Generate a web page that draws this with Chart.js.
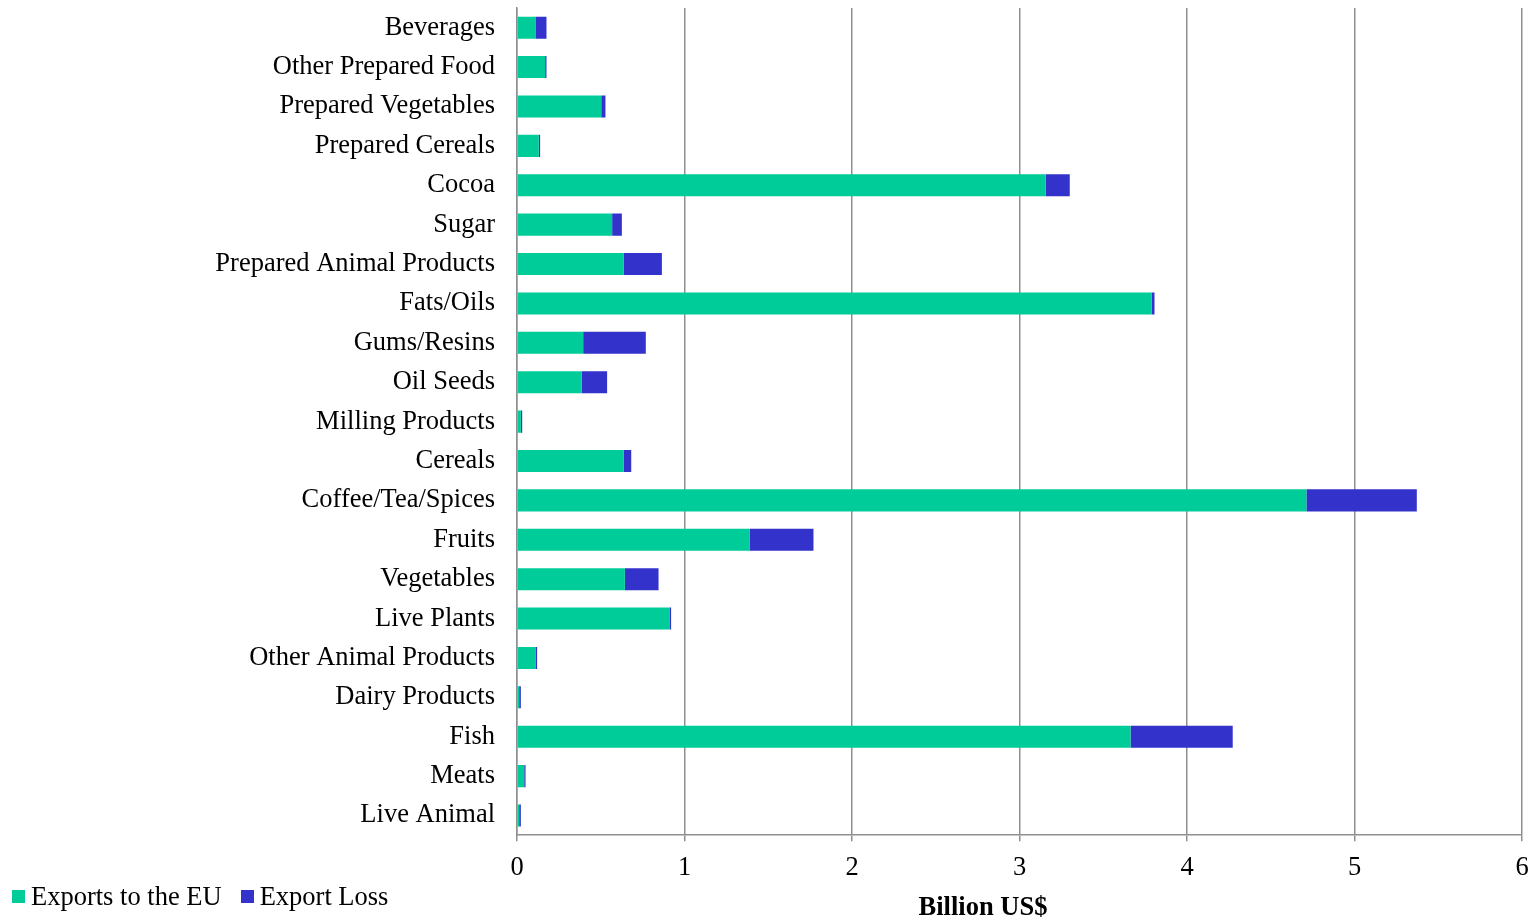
<!DOCTYPE html>
<html>
<head>
<meta charset="utf-8">
<script src="https://cdn.jsdelivr.net/npm/chart.js@4.4.0/dist/chart.umd.min.js"></script>
<style>
  html, body { margin: 0; padding: 0; background: #fff; }
  #wrap { position: relative; width: 1536px; height: 921px; }
  #legend { position: absolute; left: 12px; top: 881px; font-family: 'Liberation Serif', 'Times New Roman', serif; font-size: 26.5px; color: #000; display: flex; align-items: center; }
  .item { display: flex; align-items: center; margin-right: 19px; }
  .box { width: 13px; height: 13px; margin-right: 6px; }
</style>
</head>
<body>
<div id="wrap">
  <canvas id="myChart" width="1536" height="921"></canvas>
  <div id="legend"></div>
</div>
<script>
// categories, top to bottom as in the picture
const categories = ['Beverages', 'Other Prepared Food', 'Prepared Vegetables', 'Prepared Cereals', 'Cocoa', 'Sugar',
    'Prepared Animal Products', 'Fats/Oils', 'Gums/Resins', 'Oil Seeds', 'Milling Products', 'Cereals',
    'Coffee/Tea/Spices', 'Fruits', 'Vegetables', 'Live Plants', 'Other Animal Products', 'Dairy Products',
    'Fish', 'Meats', 'Live Animal'];

// billion US$
const exportsEU = [0.11, 0.168, 0.503, 0.13, 3.157, 0.568, 0.636, 3.788, 0.395, 0.387, 0.023, 0.636,
    4.713, 1.388, 0.644, 0.91, 0.11, 0.013, 3.663, 0.043, 0.013];
const exportLoss = [0.066, 0.008, 0.025, 0.008, 0.143, 0.058, 0.229, 0.018, 0.374, 0.151, 0.008, 0.046,
    0.659, 0.382, 0.201, 0.01, 0.01, 0.01, 0.61, 0.008, 0.01];

const xTicks = [0, 1, 2, 3, 4, 5, 6];
const xTitle = 'Billion US$';

const seriesNames = ['Exports to the EU', 'Export Loss'];
const colors = ['#00CC99', '#3333CC'];

const fontFamily = "'Liberation Serif', 'Times New Roman', serif";
Chart.defaults.font.family = fontFamily;
Chart.defaults.color = '#000';

// axis title sits a bit left of centre in the original, so draw it here
const xTitlePlugin = {
    id: 'xTitle',
    afterDraw(chart) {
        const c = chart.ctx;
        c.save();
        c.font = 'bold 26.5px ' + fontFamily;
        c.fillStyle = '#000';
        c.textAlign = 'center';
        c.textBaseline = 'middle';
        c.fillText(xTitle, chart.chartArea.left + 466, chart.chartArea.bottom + 73);
        c.restore();
    }
};

const ctx = document.getElementById('myChart').getContext('2d');

const myChart = new Chart(ctx, {
    type: 'bar',
    data: {
        labels: categories,
        datasets: [
            { label: seriesNames[0], data: exportsEU, backgroundColor: colors[0], borderWidth: 0 },
            { label: seriesNames[1], data: exportLoss, backgroundColor: colors[1], borderWidth: 0 }
        ]
    },
    options: {
        indexAxis: 'y',
        responsive: false,
        animation: false,
        layout: { padding: { top: 8, right: 14, bottom: 26, left: 0 } },
        datasets: { bar: { categoryPercentage: 1, barPercentage: 0.56 } },
        plugins: {
            legend: { display: false },
            tooltip: { enabled: false }
        },
        scales: {
            x: {
                stacked: true,
                min: 0,
                max: 6,
                afterBuildTicks: (scale) => { scale.ticks = xTicks.map(v => ({ value: v })); },
                afterFit: (scale) => {
                    scale.paddingLeft = 0;
                    scale.paddingRight = 0;
                },
                grid: { color: '#8f8f8f', lineWidth: 1.5, tickLength: 6 },
                border: { color: '#8f8f8f', width: 1.5 },
                ticks: { font: { size: 26.5 }, padding: 11 }
            },
            y: {
                stacked: true,
                afterFit: (scale) => {
                    scale.width = 517;
                    scale.paddingTop = 0;
                    scale.paddingBottom = 0;
                },
                grid: { display: false, drawTicks: false },
                border: { color: '#8f8f8f', width: 1.5 },
                ticks: { font: { size: 26.5 }, padding: 22 }
            }
        }
    },
    plugins: [xTitlePlugin]
});

// legend as html
const legend = document.getElementById('legend');
seriesNames.forEach((name, i) => {
    const item = document.createElement('div');
    item.className = 'item';
    const box = document.createElement('div');
    box.className = 'box';
    box.style.background = colors[i];
    item.append(box);
    item.append(document.createTextNode(name));
    legend.append(item);
});
</script>
</body>
</html>
